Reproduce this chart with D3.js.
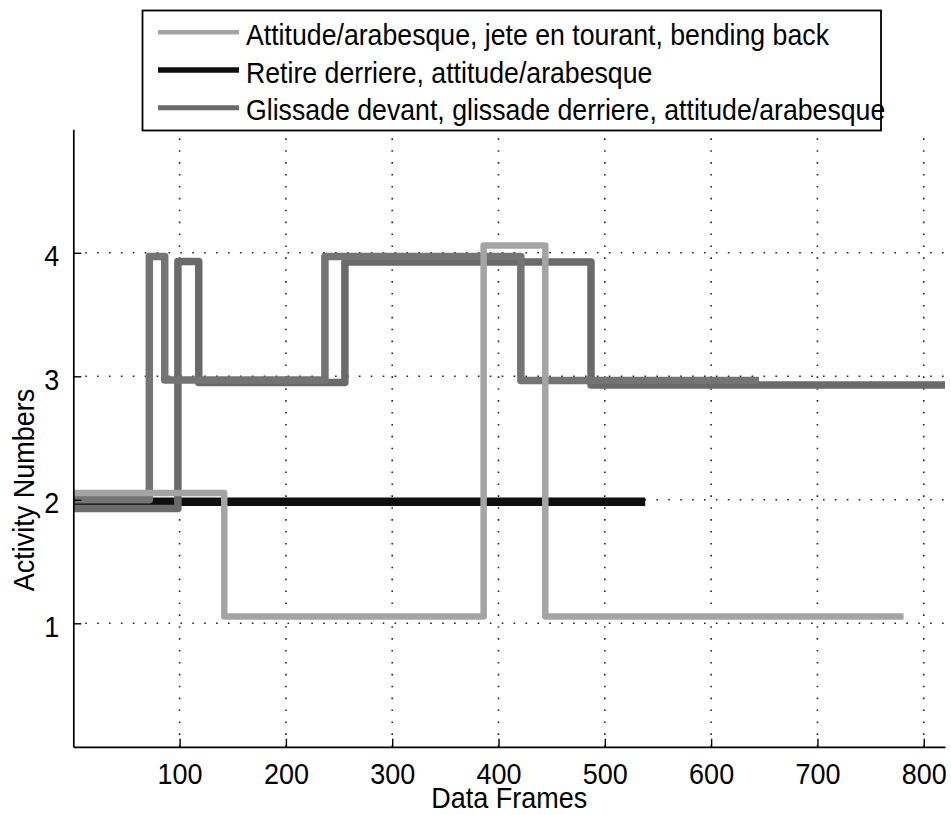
<!DOCTYPE html>
<html>
<head>
<meta charset="utf-8">
<script src="https://cdn.jsdelivr.net/npm/d3@7"></script>
<style>
  html, body { margin: 0; padding: 0; background: #ffffff; }
  svg { display: block; }
  text { font-family: "Liberation Sans", Arial, Helvetica, sans-serif; fill: #000; }
</style>
</head>
<body>
<svg id="chart" width="951" height="815"></svg>
<script>
// ---- data ----
const frameTicks = [100, 200, 300, 400, 500, 600, 700, 800];
const activityTicks = [1, 2, 3, 4];

const legendLabels = [
  "Attitude/arabesque, jete en tourant, bending back",
  "Retire derriere, attitude/arabesque",
  "Glissade devant, glissade derriere, attitude/arabesque"
];

// series 1: light grey
const attitudeFrames = [0, 142, 386, 444, 781];
const attitudeValues = [2.055, 1.055, 4.06, 1.055, 1.055];
// series 2: black
const retireFrames = [0, 538];
const retireValues = [1.985, 1.985];
// series 3: grey (two traces)
const glissadeAFrames = [0, 71.5, 86, 236.7, 421, 645];
const glissadeAValues = [2.0, 3.97, 2.97, 3.97, 2.965, 2.965];
const glissadeBFrames = [0, 98.4, 118, 255.5, 487, 820];
const glissadeBValues = [1.93, 3.93, 2.95, 3.925, 2.93, 2.93];

const xLabel = "Data Frames";
const yLabel = "Activity Numbers";

// ---- layout ----
const svg = d3.select("#chart");
const x = d3.scaleLinear().domain([0, 820]).range([73.3, 945]);
const y = d3.scaleLinear().domain([0, 5]).range([746.8, 129.3]);

const fontSize = 27;
const stretch = 1.12; // reference glyphs are a little taller than Arial

// grid
const grid = svg.append("g");
grid.selectAll("line.v").data(frameTicks).join("line")
  .attr("x1", d => x(d)).attr("x2", d => x(d))
  .attr("y1", y(0)).attr("y2", y(5))
  .attr("stroke", "#222").attr("stroke-width", 1.6)
  .attr("stroke-dasharray", "1.6,10.3");
grid.selectAll("line.h").data(activityTicks).join("line")
  .attr("y1", d => y(d)).attr("y2", d => y(d))
  .attr("x1", x(0)).attr("x2", x(820))
  .attr("stroke", "#222").attr("stroke-width", 1.6)
  .attr("stroke-dasharray", "1.6,10.3");

// series
const series = [
  { f: retireFrames, v: retireValues, color: "#0e0e0e", w: 8.5 },
  { f: glissadeBFrames, v: glissadeBValues, color: "#6a6a6a", w: 7.5 },
  { f: glissadeAFrames, v: glissadeAValues, color: "#747474", w: 7.5 },
  { f: attitudeFrames, v: attitudeValues, color: "#a4a4a4", w: 6.5 }
];
const line = d3.line()
  .x(d => x(d[0])).y(d => y(d[1]))
  .curve(d3.curveStepAfter);
svg.append("g").selectAll("path").data(series).join("path")
  .attr("d", s => line(s.f.map((f, i) => [f, s.v[i]])))
  .attr("fill", "none")
  .attr("stroke", s => s.color)
  .attr("stroke-width", s => s.w)
  .attr("stroke-linejoin", "round");

// axes
const xAxis = d3.axisBottom(x).tickValues(frameTicks).tickFormat(d3.format("d"))
  .tickSizeInner(-8).tickSizeOuter(0).tickPadding(0);
const gx = svg.append("g").attr("transform", `translate(0,${y(0)})`).call(xAxis);
gx.attr("font-size", null).attr("font-family", null);
gx.select(".domain").attr("stroke", "#000").attr("stroke-width", 1.7);
gx.selectAll(".tick line").attr("stroke", "#000").attr("stroke-width", 1.4);
gx.selectAll(".tick text")
  .attr("x", null).attr("y", null).attr("dy", null)
  .attr("transform", `translate(0,37) scale(1,${stretch})`)
  .style("font-size", fontSize + "px")
  .attr("fill", "#000");

const yAxis = d3.axisLeft(y).tickValues(activityTicks).tickFormat(d3.format("d"))
  .tickSizeInner(-8).tickSizeOuter(0).tickPadding(0);
const gy = svg.append("g").attr("transform", `translate(${x(0)},0)`).call(yAxis);
gy.attr("font-size", null).attr("font-family", null);
gy.select(".domain").attr("stroke", "#000").attr("stroke-width", 1.7);
gy.selectAll(".tick line").attr("stroke", "#000").attr("stroke-width", 1.4);
gy.selectAll(".tick text")
  .attr("x", null).attr("y", null).attr("dy", null)
  .attr("transform", `translate(-14,13) scale(1,${stretch})`)
  .style("font-size", fontSize + "px")
  .attr("fill", "#000");

// axis titles
svg.append("text")
  .attr("transform", `translate(${(x(0) + x(820)) / 2},808) scale(1,${stretch})`)
  .attr("text-anchor", "middle")
  .style("font-size", fontSize + "px")
  .text(xLabel);
svg.append("text")
  .attr("transform", `translate(34,490) rotate(-90) scale(1,${stretch})`)
  .attr("text-anchor", "middle")
  .style("font-size", fontSize + "px")
  .text(yLabel);

// legend
const legend = svg.append("g");
legend.append("rect")
  .attr("x", 142.5).attr("y", 10.5).attr("width", 738.5).attr("height", 120)
  .attr("fill", "#fff").attr("stroke", "#000").attr("stroke-width", 1.8);
const legendColors = ["#a4a4a4", "#0e0e0e", "#6a6a6a"];
const legendWidths = [4.5, 5.5, 5];
const rowY = d3.scaleLinear().domain([0, 2]).range([32.3, 107.7]);
const rows = legend.selectAll("g.row").data(legendLabels).join("g")
  .attr("transform", (d, i) => `translate(0,${rowY(i)})`);
rows.append("line")
  .attr("x1", 158).attr("x2", 239).attr("y1", 0).attr("y2", 0)
  .attr("stroke", (d, i) => legendColors[i])
  .attr("stroke-width", (d, i) => legendWidths[i]);
rows.append("text")
  .attr("transform", `translate(246,12.5) scale(1,${stretch})`)
  .style("font-size", "26.7px")
  .text(d => d);
</script>
</body>
</html>
